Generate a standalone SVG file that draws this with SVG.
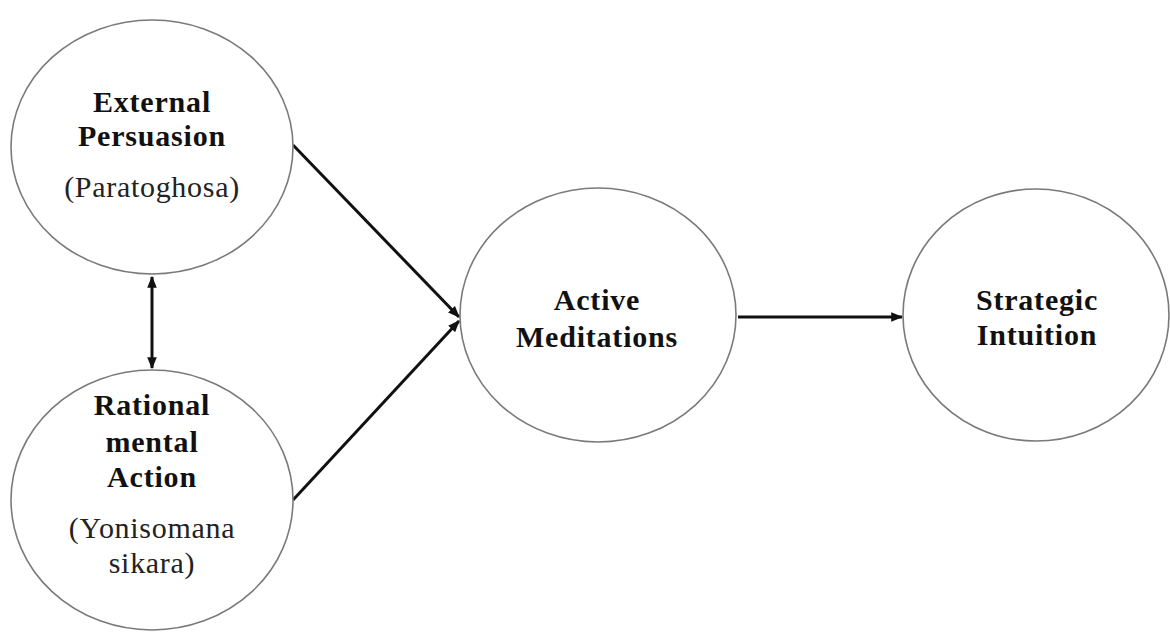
<svg xmlns="http://www.w3.org/2000/svg" width="1170" height="632" viewBox="0 0 1170 632">
<style>
.node{fill:#fff;stroke:#7a7a7a;stroke-width:1.6}
.b{font-family:"Liberation Serif",serif;font-weight:bold;font-size:30px;fill:#111;text-anchor:middle;letter-spacing:0.8px}
.r{font-family:"Liberation Serif",serif;font-size:30px;fill:#222;text-anchor:middle;letter-spacing:0.7px}
.edge{stroke:#111;stroke-width:3;fill:none}
</style>
<defs>
<marker id="ah" viewBox="0 0 10 10" refX="9" refY="5" markerWidth="4" markerHeight="4" orient="auto-start-reverse" markerUnits="strokeWidth">
<path d="M0,1 L10,5 L0,9 z" fill="#111"/>
</marker>
</defs>
<rect width="1170" height="632" fill="#fff"/>
<g id="connectors">
<line class="edge" x1="293" y1="145" x2="459" y2="317" marker-end="url(#ah)"/>
<line class="edge" x1="293" y1="500" x2="459" y2="321" marker-end="url(#ah)"/>
<line class="edge" x1="738" y1="317" x2="902" y2="317" marker-end="url(#ah)"/>
<line class="edge" x1="152" y1="277" x2="152" y2="368" marker-start="url(#ah)" marker-end="url(#ah)"/>
</g>
<g id="external">
<ellipse class="node" cx="152" cy="147" rx="141" ry="127"/>
<text class="b" x="152" y="112">External</text>
<text class="b" x="152" y="146">Persuasion</text>
<text class="r" x="152" y="197">(Paratoghosa)</text>
</g>
<g id="rational">
<ellipse class="node" cx="152" cy="500" rx="141" ry="130"/>
<text class="b" x="152" y="415">Rational</text>
<text class="b" x="152" y="452">mental</text>
<text class="b" x="152" y="487">Action</text>
<text class="r" x="152" y="538">(Yonisomana</text>
<text class="r" x="152" y="573">sikara)</text>
</g>
<g id="active">
<ellipse class="node" cx="598" cy="315" rx="138" ry="127"/>
<text class="b" x="597" y="310">Active</text>
<text class="b" x="597" y="347">Meditations</text>
</g>
<g id="strategic">
<ellipse class="node" cx="1036" cy="315" rx="133" ry="126"/>
<text class="b" x="1037" y="310">Strategic</text>
<text class="b" x="1037" y="345">Intuition</text>
</g>
</svg>
